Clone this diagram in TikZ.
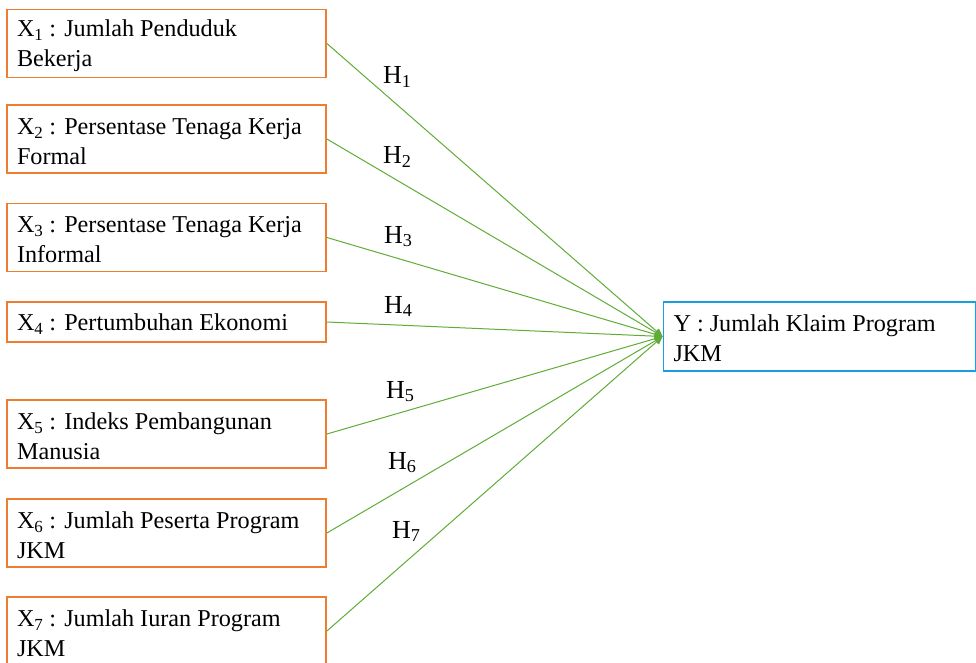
\documentclass[tikz,border=0pt]{standalone}
\usepackage{fontspec}
\setmainfont{Liberation Serif}
\usetikzlibrary{arrows.meta}
\definecolor{boxorange}{RGB}{237,125,49}
\definecolor{boxblue}{RGB}{25,160,220}
\definecolor{linegreen}{RGB}{95,172,55}
\newcommand{\tstrut}{\rule{0pt}{21pt}}
\tikzset{
  xbox/.style={draw=boxorange, line width=1.8pt, rectangle, minimum width=319pt,
    text width=299pt, align=flush left, inner xsep=10pt, inner ysep=0pt,
    font=\fontsize{24.2}{30}\selectfont},
  ybox/.style={draw=boxblue, line width=1.8pt, rectangle, minimum width=312pt,
    minimum height=69pt, text width=292pt, align=flush left, inner xsep=10pt, inner ysep=0pt,
    font=\fontsize{24.2}{30}\selectfont},
  hyp/.style={draw=linegreen, line width=1pt, -{Triangle[length=8pt,width=7pt]}},
  hlabel/.style={anchor=base west, inner sep=0pt, font=\fontsize{26}{30}\selectfont}
}
\begin{document}
\begin{tikzpicture}[x=1pt,y=-1pt]
\useasboundingbox (0,0) rectangle (976,663);
\node[xbox, minimum height=68pt] (x1) at (166.5,43.5) {\tstrut X\textsubscript{1} : Jumlah Penduduk\\Bekerja};
\node[xbox, minimum height=68pt] (x2) at (166.5,139) {\tstrut X\textsubscript{2} : Persentase Tenaga Kerja\\Formal};
\node[xbox, minimum height=68pt] (x3) at (166.5,237.5) {\tstrut X\textsubscript{3} : Persentase Tenaga Kerja\\Informal};
\node[xbox, minimum height=40pt] (x4) at (166.5,322) {\tstrut X\textsubscript{4} : Pertumbuhan Ekonomi};
\node[xbox, minimum height=68pt] (x5) at (166.5,434) {\tstrut X\textsubscript{5} : Indeks Pembangunan\\Manusia};
\node[xbox, minimum height=68pt] (x6) at (166.5,533) {\tstrut X\textsubscript{6} : Jumlah Peserta Program\\JKM};
\node[xbox, minimum height=68pt] (x7) at (166.5,631) {\tstrut X\textsubscript{7} : Jumlah Iuran Program\\JKM};
\node[ybox] (y) at (819.5,336.5) {\tstrut Y : Jumlah Klaim Program\\JKM};
\foreach \i in {1,...,7} { \draw[hyp] (x\i.east) -- (y.west); }
\node[hlabel] (h1) at (383,84) {H\textsubscript{1}};
\node[hlabel] (h2) at (383,164) {H\textsubscript{2}};
\node[hlabel] (h3) at (384,243) {H\textsubscript{3}};
\node[hlabel] (h4) at (384,313) {H\textsubscript{4}};
\node[hlabel] (h5) at (386,398) {H\textsubscript{5}};
\node[hlabel] (h6) at (388,469) {H\textsubscript{6}};
\node[hlabel] (h7) at (392,538) {H\textsubscript{7}};
\end{tikzpicture}
\end{document}
